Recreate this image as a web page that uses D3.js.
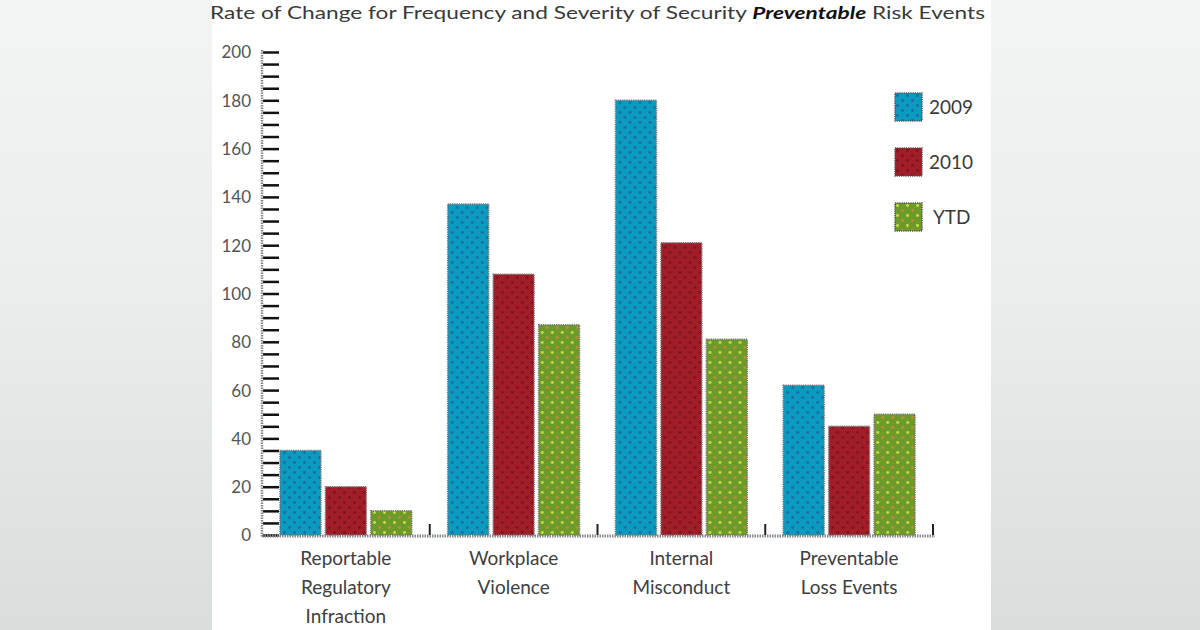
<!DOCTYPE html>
<html><head><meta charset="utf-8">
<script src="https://cdn.jsdelivr.net/npm/d3@7"></script>
<style>
html,body{margin:0;padding:0;width:1200px;height:630px;overflow:hidden;}
svg{display:block;}
</style></head>
<body>
<script>
const categories = [["Reportable","Regulatory","Infraction"],["Workplace","Violence"],["Internal","Misconduct"],["Preventable","Loss Events"]];
const catKeys = ["Reportable Regulatory Infraction","Workplace Violence","Internal Misconduct","Preventable Loss Events"];
const series = ["2009","2010","YTD"];
const values2009 = [35, 137, 180, 62];
const values2010 = [20, 108, 121, 45];
const valuesYTD = [10, 87, 81, 50];
const yTickLabels = [0,20,40,60,80,100,120,140,160,180,200];

const W = 1200, H = 630;
const svg = d3.select("body").append("svg").attr("width", W).attr("height", H);
const defs = svg.append("defs");

// background gradient
const bg = defs.append("linearGradient").attr("id","bg").attr("x1",0).attr("y1",0).attr("x2",0).attr("y2",1);
bg.append("stop").attr("offset","0%").attr("stop-color","#f3f4f4");
bg.append("stop").attr("offset","45%").attr("stop-color","#eceeee");
bg.append("stop").attr("offset","100%").attr("stop-color","#d9dddc");
svg.append("rect").attr("width",W).attr("height",H).attr("fill","url(#bg)");
svg.append("rect").attr("x",212).attr("y",0).attr("width",779).attr("height",H).attr("fill","#ffffff");

// patterns
function pat(id, base, dot1, dot2){
  const p = defs.append("pattern").attr("id",id).attr("patternUnits","userSpaceOnUse").attr("width",10).attr("height",10);
  p.append("rect").attr("width",10).attr("height",10).attr("fill",base);
  p.append("circle").attr("cx",2.5).attr("cy",2.5).attr("r",1.4).attr("fill",dot1);
  p.append("circle").attr("cx",7.5).attr("cy",7.5).attr("r",1.4).attr("fill",dot2);
}
pat("p2009","#0a9bbf","#1b6aa5","#1b6aa5");
pat("p2010","#a11d27","#7a1420","#7a1420");
pat("pYTD","#6c9b2b","#cfe03c","#c58a35");
const fills = {"2009":"url(#p2009)","2010":"url(#p2010)","YTD":"url(#pYTD)"};

const fontFam = "Lato, 'Open Sans', sans-serif";

// title
const title = svg.append("text").attr("x",210).attr("y",19)
  .attr("font-family",fontFam).attr("font-size",17).attr("fill","#3a3a3a")
  .attr("textLength",775).attr("lengthAdjust","spacingAndGlyphs");
title.append("tspan").text("Rate of Change for Frequency and Severity of Security ");
title.append("tspan").attr("font-weight","bold").attr("font-style","italic").attr("fill","#111").text("Preventable");
title.append("tspan").text(" Risk Events");

// scales
const x0 = d3.scaleBand().domain(catKeys).range([262, 933]).paddingInner(0).paddingOuter(0);
const x1 = d3.scaleBand().domain(series).range([18, x0.bandwidth()-18]).paddingInner(0.1);
const y = d3.scaleLinear().domain([0,200]).range([535, 52]);

// y axis: ticks every 5
const yAxis = d3.axisRight(y).tickValues(d3.range(0,201,5)).tickSize(16).tickFormat("");
const gy = svg.append("g").attr("transform","translate(263,0)").call(yAxis);
gy.select(".domain").remove();
gy.selectAll(".tick line").attr("stroke","#111").attr("stroke-width",2.5);
svg.append("line").attr("x1",262).attr("x2",262).attr("y1",50).attr("y2",537)
  .attr("stroke","#888").attr("stroke-width",2.5).attr("stroke-dasharray","1.5,1");

// y tick labels
const yLab = d3.axisLeft(y).tickValues(yTickLabels).tickSize(0).tickPadding(0);
const gyl = svg.append("g").attr("transform","translate(251,0)").call(yLab);
gyl.select(".domain").remove();
gyl.selectAll(".tick text").attr("font-family",fontFam).attr("font-size",17).attr("fill","#555").attr("dy","0.35em");

// baseline
svg.append("line").attr("x1",262).attr("x2",935).attr("y1",536).attr("y2",536)
  .attr("stroke","#888").attr("stroke-width",3).attr("stroke-dasharray","1.5,1");
// group separators
const seps = catKeys.slice(1).map(k => x0(k)).concat([x0.range()[1]]);
svg.selectAll(".sep").data(seps).enter().append("line")
  .attr("x1",d=>d).attr("x2",d=>d).attr("y1",524).attr("y2",535)
  .attr("stroke","#222").attr("stroke-width",2);

// bars
const rows = catKeys.map((k,i)=>({key:k, vals:[values2009[i],values2010[i],valuesYTD[i]]}));
const g = svg.selectAll(".grp").data(rows).enter().append("g").attr("transform",d=>`translate(${x0(d.key)},0)`);
g.selectAll("rect").data(d=>d.vals.map((v,j)=>({s:series[j],v}))).enter().append("rect")
  .attr("x",d=>x1(d.s)).attr("width",x1.bandwidth())
  .attr("y",d=>y(d.v)).attr("height",d=>y(0)-y(d.v))
  .attr("fill",d=>fills[d.s]).attr("stroke","#777").attr("stroke-width",1.6).attr("stroke-dasharray","1.2,1");

// x labels
svg.selectAll(".xl").data(catKeys).enter().append("text")
  .attr("x",d=>x0(d)+x0.bandwidth()/2).attr("y",565)
  .attr("text-anchor","middle").attr("font-family",fontFam).attr("font-size",19).attr("fill","#404040")
  .each(function(d,i){
    const t = d3.select(this);
    categories[i].forEach((line,li)=>{
      t.append("tspan").attr("x",x0(d)+x0.bandwidth()/2).attr("dy",li===0?0:29).text(line);
    });
  });

// legend
const lg = svg.selectAll(".lg").data(series).enter().append("g")
  .attr("transform",(d,i)=>`translate(895,${93+i*55})`);
lg.append("rect").attr("width",27).attr("height",28).attr("fill",d=>fills[d])
  .attr("stroke","#555").attr("stroke-width",1.6).attr("stroke-dasharray","1.2,1");
lg.append("text").attr("x",d=>d==="YTD"?38:34).attr("y",21).attr("font-family",fontFam).attr("font-size",19).attr("fill","#3a3a3a").text(d=>d);
</script>
</body></html>
